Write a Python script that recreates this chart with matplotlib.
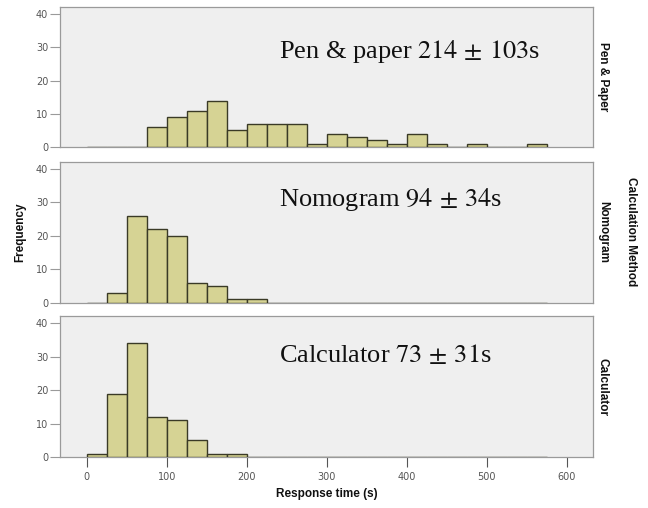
import numpy as np
import matplotlib
matplotlib.use("Agg")
import matplotlib.pyplot as plt

# Data: histogram counts, bins of 25 s from 0 to 575
bin_edges = list(range(0, 600, 25))
pen_counts = [0, 0, 0, 6, 9, 11, 14, 5, 7, 7, 7, 1, 4, 3, 2, 1, 4, 1, 0, 1, 0, 0, 1]
nomo_counts = [0, 3, 26, 22, 20, 6, 5, 1, 1, 0, 0, 0, 0, 0, 0, 0, 0, 0, 0, 0, 0, 0, 0]
calc_counts = [1, 19, 34, 12, 11, 5, 1, 1, 0, 0, 0, 0, 0, 0, 0, 0, 0, 0, 0, 0, 0, 0, 0]
panel_labels = ["Pen & Paper", "Nomogram", "Calculator"]
annotations = [r"Pen & paper $214\,\pm\,103$s", r"Nomogram $94\,\pm\,34$s", r"Calculator $73\,\pm\,31$s"]
x_ticks = [0, 100, 200, 300, 400, 500, 600]
y_ticks = [0, 10, 20, 30, 40]

plt.rcParams['mathtext.fontset'] = 'stix'

W, H = 648, 508
fig = plt.figure(figsize=(W / 100, H / 100), dpi=100)

left_px, right_px = 60, 593
panels_px = [(7, 147), (161.7, 302.7), (316, 457)]
ann_base_px = [58, 206, 362]

bar_fc = "#D6D394"
bar_ec = "#3A3A26"
bg = "#EFEFEF"
frame = "#9A9A9A"
tickc = "#555555"

all_counts = [pen_counts, nomo_counts, calc_counts]
edges = np.array(bin_edges)
lefts = edges[:-1]
axes = []
for i, (top, bot) in enumerate(panels_px):
    ax = fig.add_axes([left_px / W, 1 - bot / H, (right_px - left_px) / W, (bot - top) / H])
    ax.set_facecolor(bg)
    ax.bar(lefts, all_counts[i], width=25, align='edge', color=bar_fc,
           edgecolor=bar_ec, linewidth=1.0, zorder=3)
    ax.set_xlim(-33.4, 633)
    ax.set_ylim(0, 42.2)
    ax.set_yticks(y_ticks)
    ax.tick_params(axis='y', direction='out', length=7, width=0.8, color=frame,
                   labelcolor=tickc, labelsize=7, pad=1.5)
    for s in ax.spines.values():
        s.set_color(frame)
        s.set_linewidth(0.9)
    if i < 2:
        ax.set_xticks([])
    else:
        ax.set_xticks(x_ticks)
        ax.tick_params(axis='x', direction='out', length=7, width=0.8, color=tickc,
                       labelcolor=tickc, labelsize=7, pad=4)
    # right strip label
    fig.text(603 / W, 1 - ((top + bot) / 2) / H, panel_labels[i], rotation=-90,
             ha='center', va='center', fontsize=8.5, fontweight='bold',
             family='Liberation Sans', color='#111111')
    fig.text(279 / W, 1 - ann_base_px[i] / H, annotations[i], ha='left', va='baseline',
             fontsize=19, family='Liberation Serif', color='#111111')
    axes.append(ax)

fig.text(631 / W, 1 - 232 / H, "Calculation Method", rotation=-90, ha='center', va='center',
         fontsize=8.5, fontweight='bold', family='Liberation Sans', color='#111111')
fig.text(20 / W, 1 - 232 / H, "Frequency", rotation=90, ha='center', va='center',
         fontsize=8.5, fontweight='bold', family='Liberation Sans', color='#111111')
fig.text(327 / W, 1 - 494 / H, "Response time (s)", ha='center', va='center',
         fontsize=8.5, fontweight='bold', family='Liberation Sans', color='#111111')

fig.savefig("out.png", dpi=100, facecolor='white')
